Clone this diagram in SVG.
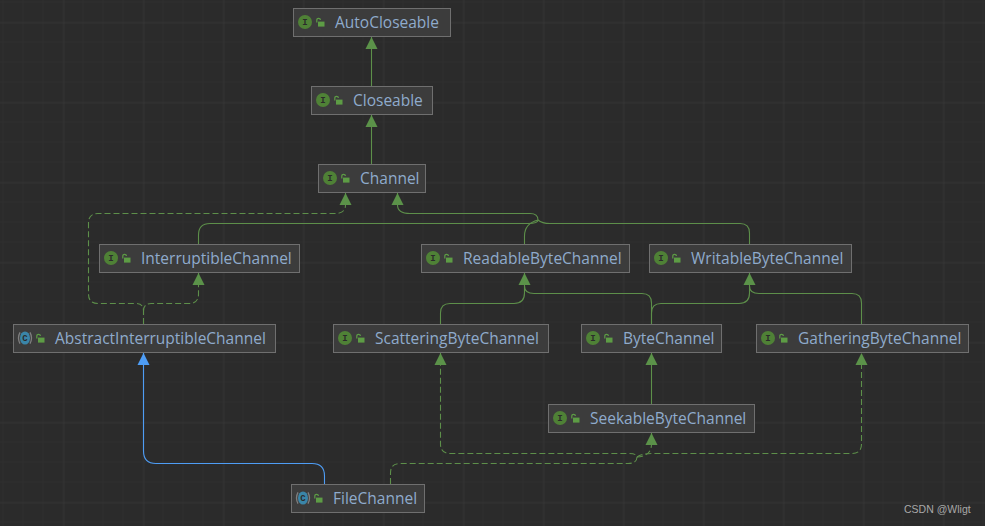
<svg xmlns="http://www.w3.org/2000/svg" width="985" height="526" viewBox="0 0 985 526">
<defs>
<pattern id="minor" width="20" height="20" patternUnits="userSpaceOnUse" x="3.5" y="2.5"><path d="M20 0V20M0 20H20" stroke="#323232" fill="none"/></pattern>
<pattern id="major" width="80" height="80" patternUnits="userSpaceOnUse" x="63.5" y="22.5"><path d="M0 0V80M0 0H80" stroke="#3a3a3a" fill="none"/></pattern>
<marker id="ag" markerUnits="userSpaceOnUse" markerWidth="13" markerHeight="13" refX="12" refY="6.5" orient="auto"><path d="M0 .5L12 6.5L0 12.5Z" fill="#5b9249"/></marker>
<marker id="ab" markerUnits="userSpaceOnUse" markerWidth="13" markerHeight="13" refX="12" refY="6.5" orient="auto"><path d="M0 .5L12 6.5L0 12.5Z" fill="#4e9df5"/></marker>
<g id="lock"><path d="M.8 4.5V1.9Q.8 .3 2.6 .3T4.4 1.9" fill="none" stroke="#5d9c45" stroke-width="1.2"/><rect x="2" y="3.6" width="6.5" height="5" fill="#5d9c45"/></g>
<g id="cring"><path d="M-5 -5.6Q-8 0 -5 5.6M5 -5.6Q8 0 5 5.6" fill="none" stroke="#7f7f7f" stroke-width="1.3"/><ellipse rx="5" ry="6.6" fill="#3a85a8"/></g>
</defs>
<style>
.n rect.b{fill:#3c3c3c;stroke:#6f6f6f;stroke-width:1}
.n text.t{font:15.5px "Open Sans","Liberation Sans",sans-serif;fill:#8fabcc}
.n circle.i{fill:#4f8136}
.n text.g{font:bold 9px "Liberation Mono",monospace;fill:#2b2b2b;text-anchor:middle}
.e path{fill:none;stroke:#5d8f4a;stroke-width:1.1}
.e path.d{stroke-dasharray:6 3}
.e path.bl{stroke:#4e9df5}
.w{font:10.5px "Liberation Sans",sans-serif;fill:#a8a8a8}
</style>
<rect width="985" height="526" fill="#2b2b2b"/>
<rect width="985" height="526" fill="url(#minor)"/>
<rect width="985" height="526" fill="url(#major)"/>
<g id="connectors" class="e">
<path d="M371.5 86V37" marker-end="url(#ag)"/>
<path d="M371.5 164V115" marker-end="url(#ag)"/>
<path class="d" d="M143.5 324V311Q143.5 303.5 136 303.5H98Q88.5 303.5 88.5 294V223Q88.5 213.5 98 213.5H335Q345.5 213.5 345.5 205V193" marker-end="url(#ag)"/>
<path class="d" d="M143.5 311Q143.5 303.5 151 303.5H189Q198.5 303.5 198.5 294V273" marker-end="url(#ag)"/>
<path d="M198.5 244V235Q198.5 223.5 210 223.5H528Q538 223.5 538 220Q538 213.5 530 213.5H410Q397.5 213.5 397.5 205V193" marker-end="url(#ag)"/>
<path d="M524.5 244V236Q524.5 223.5 538 220"/>
<path d="M749.5 244V233Q749.5 223.5 740 223.5H550Q542 223.5 538 220"/>
<path d="M440.5 324V313Q440.5 303.5 450 303.5H514Q524.5 303.5 524.5 293V273" marker-end="url(#ag)"/>
<path d="M651.5 324V303Q651.5 293.5 642 293.5H534Q524.5 293.5 524.5 286"/>
<path d="M651.5 324V313Q651.5 303.5 661 303.5H739Q749.5 303.5 749.5 293V273" marker-end="url(#ag)"/>
<path d="M861.5 324V303Q861.5 293.5 852 293.5H759Q749.5 293.5 749.5 286"/>
<path d="M651.5 404V353" marker-end="url(#ag)"/>
<path class="d" d="M390.5 484V473Q390.5 463.5 400 463.5H628Q637 463.5 637 457Q637 453.5 628 453.5H450Q440.5 453.5 440.5 444V353" marker-end="url(#ag)"/>
<path class="d" d="M637 457Q651.5 456 651.5 444V433" marker-end="url(#ag)"/>
<path class="d" d="M637 457Q642 453.5 652 453.5H852Q861.5 453.5 861.5 444V353" marker-end="url(#ag)"/>
<path class="bl" d="M324.5 484V476Q324.5 463.5 312 463.5H156Q143.5 463.5 143.5 451V353" marker-end="url(#ab)"/>
</g>
<g id="AutoCloseable" class="n"><rect class="b" x="293.5" y="8.5" width="157" height="28"/><circle class="i" cx="305" cy="22" r="7"/><text class="g" x="305" y="25">I</text><use href="#lock" x="316" y="18"/><text class="t" x="335" y="28">AutoCloseable</text></g>
<g id="Closeable" class="n"><rect class="b" x="311.5" y="86.5" width="121" height="28"/><circle class="i" cx="323" cy="100" r="7"/><text class="g" x="323" y="103">I</text><use href="#lock" x="334" y="96"/><text class="t" x="353" y="106">Closeable</text></g>
<g id="Channel" class="n"><rect class="b" x="318.5" y="164.5" width="107" height="28"/><circle class="i" cx="330" cy="178" r="7"/><text class="g" x="330" y="181">I</text><use href="#lock" x="341" y="174"/><text class="t" x="360" y="184">Channel</text></g>
<g id="InterruptibleChannel" class="n"><rect class="b" x="99.5" y="244.5" width="200" height="28"/><circle class="i" cx="111" cy="258" r="7"/><text class="g" x="111" y="261">I</text><use href="#lock" x="122" y="254"/><text class="t" x="141" y="264">InterruptibleChannel</text></g>
<g id="ReadableByteChannel" class="n"><rect class="b" x="421.5" y="244.5" width="208" height="28"/><circle class="i" cx="433" cy="258" r="7"/><text class="g" x="433" y="261">I</text><use href="#lock" x="444" y="254"/><text class="t" x="463" y="264">ReadableByteChannel</text></g>
<g id="WritableByteChannel" class="n"><rect class="b" x="649.5" y="244.5" width="202" height="28"/><circle class="i" cx="661" cy="258" r="7"/><text class="g" x="661" y="261">I</text><use href="#lock" x="672" y="254"/><text class="t" x="691" y="264">WritableByteChannel</text></g>
<g id="AbstractInterruptibleChannel" class="n"><rect class="b" x="13.5" y="324.5" width="262" height="28"/><use href="#cring" x="25" y="338"/><text class="g" x="25" y="341">C</text><use href="#lock" x="36" y="334"/><text class="t" x="55" y="344">AbstractInterruptibleChannel</text></g>
<g id="ScatteringByteChannel" class="n"><rect class="b" x="333.5" y="324.5" width="215" height="28"/><circle class="i" cx="345" cy="338" r="7"/><text class="g" x="345" y="341">I</text><use href="#lock" x="356" y="334"/><text class="t" x="375" y="344">ScatteringByteChannel</text></g>
<g id="ByteChannel" class="n"><rect class="b" x="581.5" y="324.5" width="140" height="28"/><circle class="i" cx="593" cy="338" r="7"/><text class="g" x="593" y="341">I</text><use href="#lock" x="604" y="334"/><text class="t" x="623" y="344">ByteChannel</text></g>
<g id="GatheringByteChannel" class="n"><rect class="b" x="756.5" y="324.5" width="212" height="28"/><circle class="i" cx="768" cy="338" r="7"/><text class="g" x="768" y="341">I</text><use href="#lock" x="779" y="334"/><text class="t" x="798" y="344">GatheringByteChannel</text></g>
<g id="SeekableByteChannel" class="n"><rect class="b" x="548.5" y="404.5" width="206" height="28"/><circle class="i" cx="560" cy="418" r="7"/><text class="g" x="560" y="421">I</text><use href="#lock" x="571" y="414"/><text class="t" x="590" y="424">SeekableByteChannel</text></g>
<g id="FileChannel" class="n"><rect class="b" x="291.5" y="484.5" width="133" height="28"/><use href="#cring" x="303" y="498"/><text class="g" x="303" y="501">C</text><use href="#lock" x="314" y="494"/><text class="t" x="333" y="504">FileChannel</text></g>
<text class="w" x="904" y="513">CSDN @Wligt</text>
</svg>
